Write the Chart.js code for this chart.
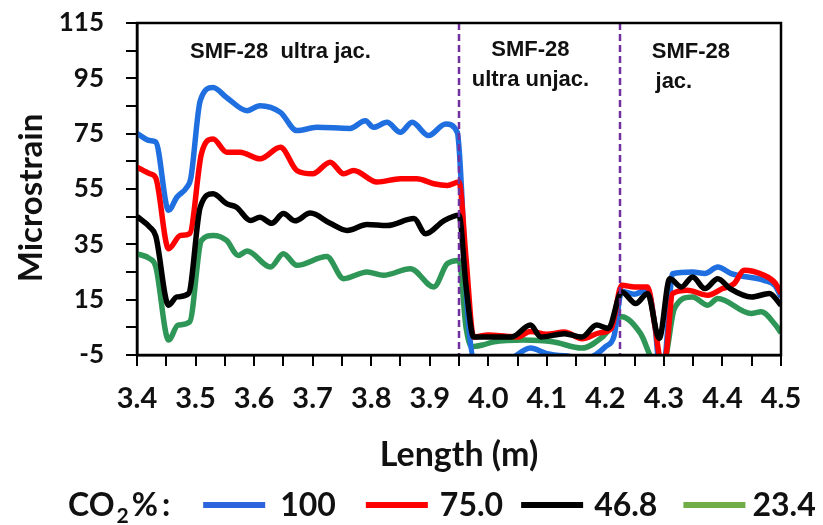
<!DOCTYPE html>
<html>
<head>
<meta charset="utf-8">
<script src="https://cdn.jsdelivr.net/npm/chart.js"></script>
<style>
  html, body { margin: 0; padding: 0; background: #fff; }
</style>
</head>
<body>
<canvas id="strainChart" width="823" height="525"></canvas>
<script>
// Strain profile along the fibre for each CO2 concentration
const co2Labels = ['100', '75.0', '46.8', '23.4'];
const lineColors = ['#1f6fe0', '#ff0000', '#000000', '#2e9657'];
const keyColors = ['#2d63dc', '#ff0000', '#000000', '#70ad47'];

const len100 = [3.400, 3.422, 3.432, 3.454, 3.468, 3.485, 3.492, 3.508, 3.530, 3.553, 3.588, 3.610, 3.645, 3.673, 3.707, 3.764, 3.790, 3.804, 3.827, 3.850, 3.870, 3.898, 3.927, 3.947, 3.965, 3.975, 4.000, 4.030, 4.072, 4.100, 4.140, 4.170, 4.200, 4.215, 4.228, 4.250, 4.272, 4.285, 4.292, 4.300, 4.315, 4.349, 4.370, 4.392, 4.415, 4.471, 4.490, 4.500];
const strain100 = [75.1, 72.5, 72.0, 47.3, 52.0, 55.6, 59.0, 86.9, 91.7, 88.1, 83.3, 85.1, 82.7, 76.1, 77.3, 76.9, 79.7, 77.3, 79.1, 75.5, 79.1, 74.3, 78.5, 75.5, 10.0, -6.0, -7.0, -7.0, -2.5, -4.5, -5.5, -6.0, -2.0, 2.0, 18.0, 17.0, 18.7, 5.0, -8.0, -8.0, 24.4, 25.0, 24.5, 26.8, 24.4, 22.0, 20.0, 16.0];

const len75 = [3.400, 3.422, 3.432, 3.454, 3.474, 3.490, 3.510, 3.530, 3.553, 3.576, 3.610, 3.645, 3.673, 3.700, 3.730, 3.753, 3.770, 3.810, 3.850, 3.878, 3.907, 3.930, 3.950, 3.962, 3.975, 4.000, 4.030, 4.050, 4.072, 4.100, 4.130, 4.160, 4.190, 4.210, 4.228, 4.250, 4.272, 4.285, 4.294, 4.302, 4.315, 4.340, 4.375, 4.400, 4.420, 4.437, 4.471, 4.490, 4.500];
const strain75 = [62.9, 60.5, 59.0, 33.4, 38.2, 38.9, 67.7, 73.1, 68.3, 68.3, 65.9, 70.1, 61.7, 60.5, 64.7, 60.5, 61.7, 57.5, 58.7, 58.7, 56.9, 56.3, 57.5, 30.0, 1.5, 2.2, 1.8, 1.5, 3.5, 2.5, 3.3, 0.9, 3.0, 4.6, 20.2, 19.6, 19.6, 5.0, -6.0, -6.0, 17.2, 18.4, 16.6, 19.0, 20.8, 25.6, 23.8, 21.0, 17.2];

const len468 = [3.400, 3.422, 3.432, 3.454, 3.468, 3.488, 3.508, 3.530, 3.553, 3.570, 3.594, 3.610, 3.630, 3.650, 3.670, 3.696, 3.730, 3.759, 3.793, 3.827, 3.873, 3.893, 3.924, 3.950, 3.962, 3.975, 4.000, 4.040, 4.072, 4.090, 4.130, 4.160, 4.185, 4.205, 4.228, 4.252, 4.272, 4.292, 4.310, 4.330, 4.349, 4.370, 4.392, 4.413, 4.450, 4.480, 4.500];
const strain468 = [45.1, 41.2, 38.0, 13.0, 16.0, 17.2, 48.4, 53.3, 49.7, 48.4, 43.6, 44.8, 42.6, 46.1, 43.5, 46.3, 42.6, 40.0, 42.2, 41.8, 44.3, 38.8, 43.5, 45.5, 20.0, 1.5, 1.5, 1.5, 5.8, 1.5, 2.7, 1.5, 5.8, 4.6, 17.8, 13.6, 17.2, 1.0, 22.6, 19.6, 23.2, 19.0, 22.6, 19.0, 16.0, 17.2, 13.0];

const len234 = [3.400, 3.422, 3.432, 3.454, 3.470, 3.490, 3.510, 3.530, 3.553, 3.573, 3.588, 3.628, 3.650, 3.673, 3.724, 3.753, 3.793, 3.821, 3.867, 3.907, 3.930, 3.950, 3.962, 3.972, 3.990, 4.010, 4.060, 4.110, 4.160, 4.195, 4.228, 4.260, 4.284, 4.300, 4.318, 4.349, 4.375, 4.392, 4.449, 4.466, 4.490, 4.500];
const strain234 = [31.6, 29.8, 27.0, 0.4, 5.8, 7.0, 36.4, 38.2, 36.4, 31.0, 32.6, 26.8, 31.6, 27.4, 30.6, 22.6, 25.0, 23.8, 26.2, 19.6, 28.0, 29.2, 5.0, -2.0, -1.4, -0.2, 0.4, -0.2, -2.5, 1.5, 8.8, 2.8, -7.0, -7.0, 11.8, 16.0, 13.0, 15.4, 10.0, 10.6, 6.0, 3.0];

const xTickLabels = ['3.4', '3.5', '3.6', '3.7', '3.8', '3.9', '4.0', '4.1', '4.2', '4.3', '4.4', '4.5'];
const yTickLabels = [-5, 15, 35, 55, 75, 95, 115];
// fibre section boundaries (m)
const boundaries = [3.95, 4.225];

const lengths = [len100, len75, len468, len234];
const strains = [strain100, strain75, strain468, strain234];
const drawOrder = [2, 1, 0, 3];

// majors plus a minor tick halfway between each pair
function withMinors(majors) {
  const out = [];
  majors.forEach((v, i) => {
    out.push(v);
    if (i < majors.length - 1) out.push((v + majors[i + 1]) / 2);
  });
  return out;
}
const xTickValues = withMinors(xTickLabels.map(Number));
const yTickValues = withMinors(yTickLabels);

const datasets = co2Labels.map((label, i) => ({
  label,
  data: lengths[i].map((x, j) => ({ x, y: strains[i][j] })),
  borderColor: lineColors[i],
  backgroundColor: lineColors[i],
  borderWidth: 5.5,
  pointRadius: 0,
  cubicInterpolationMode: 'monotone',
  clip: 0,
  order: drawOrder[i]
}));

const TICK = 11;

const decorations = {
  id: 'decorations',
  afterDatasetsDraw(chart) {
    const { ctx, chartArea: a, scales: { x, y } } = chart;
    ctx.save();
    // section boundaries
    ctx.strokeStyle = '#7030a0';
    ctx.lineWidth = 2.5;
    ctx.setLineDash([7, 4]);
    boundaries.forEach(b => {
      const px = x.getPixelForValue(b);
      ctx.beginPath();
      ctx.moveTo(px, a.top);
      ctx.lineTo(px, a.bottom);
      ctx.stroke();
    });
    ctx.setLineDash([]);
    // section names
    ctx.fillStyle = '#111';
    ctx.font = 'bold 22px "Liberation Sans", Arial, sans-serif';
    ctx.textAlign = 'center';
    ctx.textBaseline = 'middle';
    ctx.fillText('SMF-28  ultra jac.', x.getPixelForValue(3.645), y.getPixelForValue(104.4));
    ctx.fillText('SMF-28', x.getPixelForValue(4.072), y.getPixelForValue(105.2));
    ctx.fillText('ultra unjac.', x.getPixelForValue(4.072), y.getPixelForValue(94.4));
    ctx.fillText('SMF-28', x.getPixelForValue(4.346), y.getPixelForValue(104.4));
    ctx.fillText('jac.', x.getPixelForValue(4.317), y.getPixelForValue(93.6));
    ctx.restore();
  },
  afterDraw(chart) {
    const { ctx, chartArea: a, scales: { x, y } } = chart;
    ctx.save();
    // frame and outward tick marks
    ctx.strokeStyle = '#000';
    ctx.lineWidth = 2.5;
    ctx.strokeRect(a.left, a.top, a.right - a.left, a.bottom - a.top);
    ctx.lineWidth = 2;
    ctx.beginPath();
    x.ticks.forEach(t => {
      const px = Math.round(x.getPixelForValue(t.value));
      ctx.moveTo(px, a.bottom);
      ctx.lineTo(px, a.bottom + TICK);
    });
    y.ticks.forEach(t => {
      const py = Math.round(y.getPixelForValue(t.value));
      ctx.moveTo(a.left, py);
      ctx.lineTo(a.left - TICK, py);
    });
    ctx.stroke();

    ctx.fillStyle = '#111';
    // y axis title
    ctx.save();
    ctx.translate(31, 198);
    ctx.rotate(-Math.PI / 2);
    ctx.font = 'bold 33px Lato, sans-serif';
    ctx.textAlign = 'center';
    ctx.textBaseline = 'middle';
    ctx.fillText('Microstrain', 0, 0);
    ctx.restore();

    // key along the bottom
    const yMid = 505;
    const base = 516;
    ctx.textBaseline = 'alphabetic';
    ctx.textAlign = 'left';
    const big = 'bold 32px Lato, sans-serif';
    const small = 'bold 21px Lato, sans-serif';
    let cx = 68;
    ctx.font = big;
    ctx.fillText('CO', cx, base);
    cx += ctx.measureText('CO').width + 2;
    ctx.font = small;
    ctx.fillText('2', cx, base + 7);
    cx += ctx.measureText('2').width + 3;
    ctx.font = big;
    ctx.fillText('%', cx, base);
    cx += ctx.measureText('%').width + 4;
    ctx.fillText(':', cx, base);
    cx += ctx.measureText(':').width;
    const gapBefore = [33, 30, 18, 26];
    const gapAfter = [15, 12, 11, 7];
    chart.data.datasets.forEach((ds, i) => {
      cx += gapBefore[i];
      ctx.strokeStyle = keyColors[i];
      ctx.lineWidth = 6;
      ctx.beginPath();
      ctx.moveTo(cx, yMid);
      ctx.lineTo(cx + 62, yMid);
      ctx.stroke();
      cx += 62 + gapAfter[i];
      ctx.font = big;
      ctx.fillText(ds.label, cx, base);
      cx += ctx.measureText(ds.label).width;
    });
    ctx.restore();
  }
};

new Chart(document.getElementById('strainChart'), {
  type: 'line',
  data: { datasets },
  options: {
    responsive: false,
    animation: false,
    layout: { padding: { left: 0, top: 23, right: 42, bottom: 50 } },
    plugins: { legend: { display: false }, tooltip: { enabled: false } },
    scales: {
      x: {
        type: 'linear',
        min: 3.4,
        max: 4.5,
        afterBuildTicks: s => { s.ticks = xTickValues.map(v => ({ value: v })); },
        afterFit: s => { s.height = 120; },
        ticks: {
          autoSkip: false,
          maxRotation: 0,
          padding: 0,
          color: '#111',
          font: { family: 'Lato', weight: 'bold', size: 29 },
          callback: v => xTickLabels.find(l => Math.abs(Number(l) - v) < 1e-6) || ''
        },
        // tick marks are drawn by the plugin; tickLength only sets the label offset
        grid: { display: false, drawTicks: true, tickLength: 26 },
        border: { color: '#000', width: 2.5 },
        title: {
          display: true,
          text: 'Length (m)',
          color: '#111',
          font: { family: 'Lato', weight: 'bold', size: 34 },
          padding: { top: 0, bottom: 0 }
        }
      },
      y: {
        min: -5,
        max: 115,
        afterBuildTicks: s => { s.ticks = yTickValues.map(v => ({ value: v })); },
        afterFit: s => { s.width = 137; },
        ticks: {
          autoSkip: false,
          padding: 0,
          color: '#111',
          font: { family: 'Lato', weight: 'bold', size: 26 },
          callback: v => yTickLabels.includes(v) ? String(v) : ''
        },
        grid: { display: false, drawTicks: true, tickLength: 33 },
        border: { color: '#000', width: 2.5 }
      }
    }
  },
  plugins: [decorations]
});
</script>
</body>
</html>
